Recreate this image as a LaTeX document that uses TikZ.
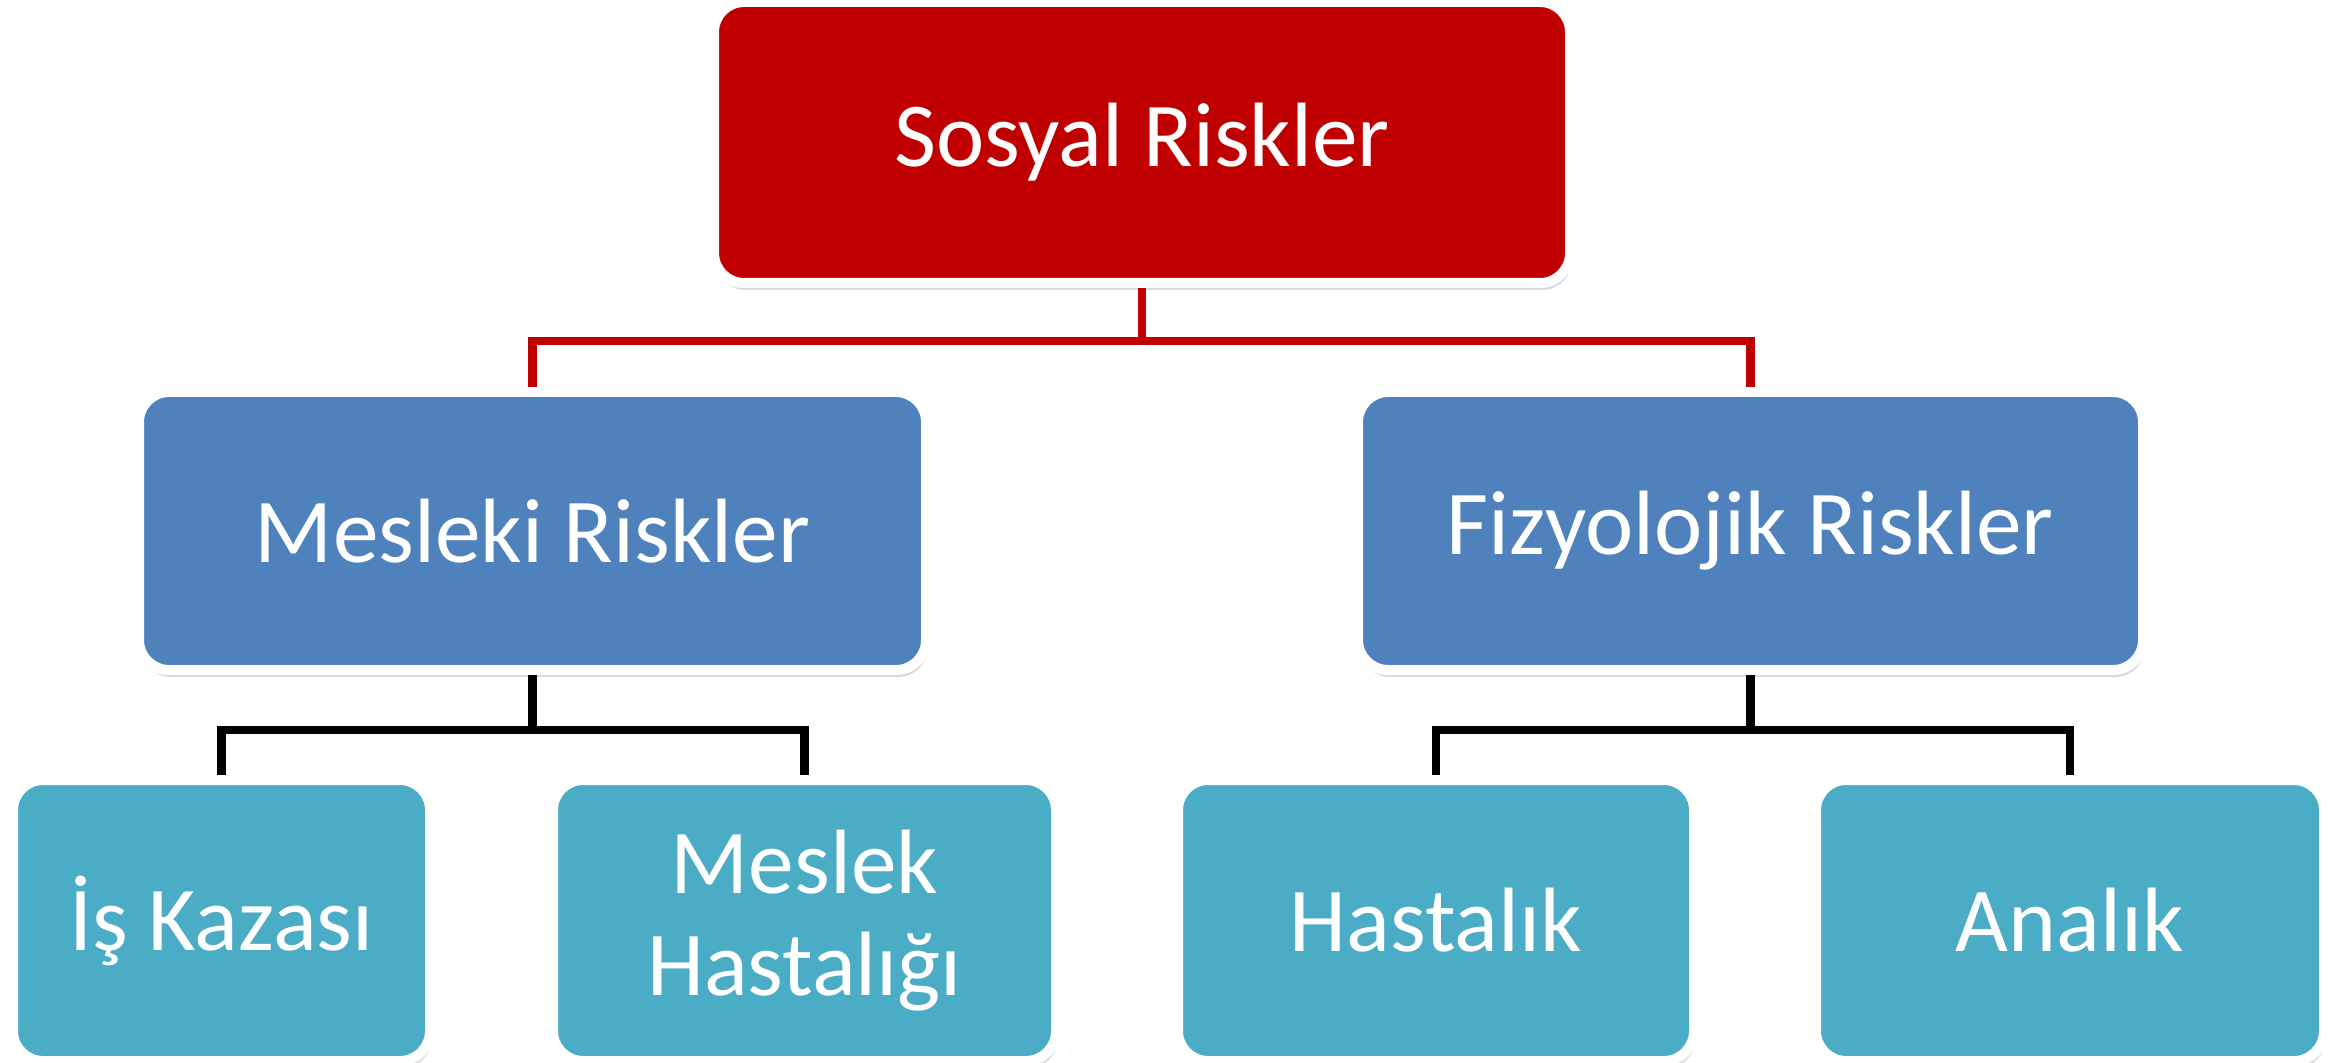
\documentclass[tikz,border=0pt]{standalone}
\usepackage{fontspec}
\setmainfont{Carlito}
\usetikzlibrary{shadows}
\definecolor{riskred}{HTML}{C00000}
\definecolor{riskblue}{HTML}{4F81BD}
\definecolor{riskteal}{HTML}{4BACC6}

\begin{document}
\begin{tikzpicture}[
    box/.style={rectangle, rounded corners=0.3cm, draw=white, line width=0.1cm, inner sep=0pt,
        text=white, align=center, font=\fontsize{26}{29}\selectfont,
        drop shadow={shadow xshift=0.02cm, shadow yshift=-0.07cm, opacity=0.3}},
    link/.style={line width=0.085cm}
]
\useasboundingbox (0,0) rectangle (23.48,-10.63);

% Level 0: top
\node[box, fill=riskred, minimum width=8.56cm, minimum height=2.81cm] (sos) at (11.42,-1.425) {Sosyal Riskler};

% Level 1
\node[box, fill=riskblue, minimum width=7.87cm, minimum height=2.78cm] (mes) at (5.325,-5.31) {Mesleki Riskler};
\node[box, fill=riskblue, minimum width=7.85cm, minimum height=2.78cm] (fiz) at (17.505,-5.31) {Fizyolojik Riskler};

% Level 2
\node[box, fill=riskteal, minimum width=4.17cm, minimum height=2.81cm] (kaza) at (2.215,-9.205) {İş Kazası};
\node[box, fill=riskteal, minimum width=5.03cm, minimum height=2.81cm] (meshas) at (8.045,-9.205) {Meslek\\Hastalığı};
\node[box, fill=riskteal, minimum width=5.16cm, minimum height=2.81cm] (has) at (14.36,-9.205) {Hastalık};
\node[box, fill=riskteal, minimum width=5.08cm, minimum height=2.81cm] (ana) at (20.70,-9.205) {Analık};

% Connectors
\draw[link, riskred] (sos.south) -- ++(0,-0.53) -| (mes.north);
\draw[link, riskred] (sos.south) -- ++(0,-0.53) -| (fiz.north);
\draw[link] (mes.south) -- ++(0,-0.55) -| (kaza.north);
\draw[link] (mes.south) -- ++(0,-0.55) -| (meshas.north);
\draw[link] (fiz.south) -- ++(0,-0.55) -| (has.north);
\draw[link] (fiz.south) -- ++(0,-0.55) -| (ana.north);

\end{tikzpicture}
\end{document}
